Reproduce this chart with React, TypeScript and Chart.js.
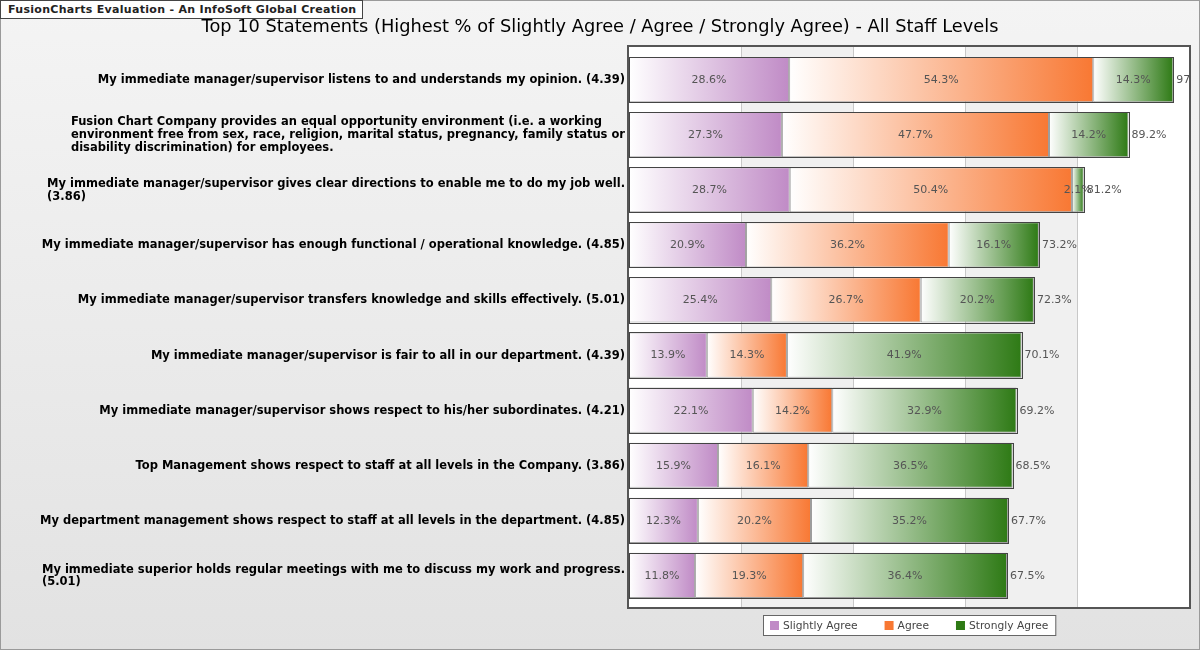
import React, { useEffect, useRef } from "react";
import { Chart, registerables } from "chart.js";

Chart.register(...registerables);

const categories: (string | string[])[] = [
  "My immediate manager/supervisor listens to and understands my opinion. (4.39)",
  [
    "Fusion Chart Company provides an equal opportunity environment (i.e. a working",
    "environment free from sex, race, religion, marital status, pregnancy, family status or",
    "disability discrimination) for employees.",
  ],
  ["My immediate manager/supervisor gives clear directions to enable me to do my job well.", "(3.86)"],
  "My immediate manager/supervisor has enough functional / operational knowledge. (4.85)",
  "My immediate manager/supervisor transfers knowledge and skills effectively. (5.01)",
  "My immediate manager/supervisor is fair to all in our department. (4.39)",
  "My immediate manager/supervisor shows respect to his/her subordinates. (4.21)",
  "Top Management shows respect to staff at all levels in the Company. (3.86)",
  "My department management shows respect to staff at all levels in the department. (4.85)",
  ["My immediate superior holds regular meetings with me to discuss my work and progress.", "(5.01)"],
];

const slightlyAgree = [28.6, 27.3, 28.7, 20.9, 25.4, 13.9, 22.1, 15.9, 12.3, 11.8];
const agree = [54.3, 47.7, 50.4, 36.2, 26.7, 14.3, 14.2, 16.1, 20.2, 19.3];
const stronglyAgree = [14.3, 14.2, 2.1, 16.1, 20.2, 41.9, 32.9, 36.5, 35.2, 36.4];

const seriesNames = ["Slightly Agree", "Agree", "Strongly Agree"];
const seriesColors = ["#C08BC6", "#F87833", "#2E7A15"];
const xTicks = [0, 20, 40, 60, 80, 100];

const titleText =
  "Top 10 Statements (Highest % of Slightly Agree / Agree / Strongly Agree) - All Staff Levels";
const watermarkText = "FusionCharts Evaluation - An InfoSoft Global Creation";

const allSeries = [slightlyAgree, agree, stronglyAgree];
const FONT = "'DejaVu Sans', Verdana, sans-serif";

function gradientFill(ci: number) {
  return (ctx: any) => {
    const chart = ctx.chart;
    const xs = chart.scales && chart.scales.x;
    if (!xs || ctx.type !== "data") return seriesColors[ci];
    const i = ctx.dataIndex;
    let start = 0;
    for (let k = 0; k < ci; k++) start += allSeries[k][i];
    const end = start + allSeries[ci][i];
    const x0 = xs.getPixelForValue(start);
    const x1 = xs.getPixelForValue(end);
    if (!isFinite(x0) || !isFinite(x1) || x1 - x0 < 0.5) return seriesColors[ci];
    const g = chart.ctx.createLinearGradient(x0, 0, x1, 0);
    g.addColorStop(0, "#ffffff");
    g.addColorStop(1, seriesColors[ci]);
    return g;
  };
}

const decorPlugin = {
  id: "decor",
  beforeDraw(chart: any) {
    const { ctx, width, height, chartArea: ca } = chart;
    const xs = chart.scales.x;
    ctx.save();
    // page background
    const bg = ctx.createLinearGradient(0, 0, 0, height);
    bg.addColorStop(0, "#f4f4f4");
    bg.addColorStop(1, "#e2e2e2");
    ctx.fillStyle = bg;
    ctx.fillRect(0, 0, width, height);
    ctx.strokeStyle = "#9a9a9a";
    ctx.lineWidth = 1;
    ctx.strokeRect(0.5, 0.5, width - 1, height - 1);

    // title
    ctx.font = `17.8px ${FONT}`;
    ctx.fillStyle = "#000000";
    ctx.textAlign = "center";
    ctx.textBaseline = "alphabetic";
    ctx.fillText(titleText, width / 2, 32);

    // plot frame
    const fy0 = ca.top - 5;
    const fy1 = ca.bottom + 4;
    ctx.fillStyle = "#ffffff";
    ctx.fillRect(ca.left, fy0, ca.right - ca.left, fy1 - fy0);
    for (let j = 0; j < xTicks.length - 1; j++) {
      if (j % 2 === 1) {
        const a = xs.getPixelForValue(xTicks[j]);
        const b = xs.getPixelForValue(xTicks[j + 1]);
        ctx.fillStyle = "#f0f0f0";
        ctx.fillRect(a, fy0, b - a, fy1 - fy0);
      }
    }
    ctx.strokeStyle = "#c8c8c8";
    ctx.lineWidth = 1;
    for (let j = 1; j < xTicks.length - 1; j++) {
      const p = Math.round(xs.getPixelForValue(xTicks[j])) + 0.5;
      ctx.beginPath();
      ctx.moveTo(p, fy0);
      ctx.lineTo(p, fy1);
      ctx.stroke();
    }
    ctx.strokeStyle = "#555555";
    ctx.lineWidth = 2;
    ctx.strokeRect(ca.left - 1, fy0 - 1, ca.right - ca.left + 2, fy1 - fy0 + 2);

    // category labels
    const ys = chart.scales.y;
    ctx.font = `bold 11.5px ${FONT}`;
    ctx.fillStyle = "#000000";
    ctx.textBaseline = "middle";
    ctx.textAlign = "left";
    const lineH = 12.8;
    categories.forEach((lab, i) => {
      const lines = Array.isArray(lab) ? lab : [lab];
      const maxW = Math.max(...lines.map((l) => ctx.measureText(l).width));
      const x0 = ca.left - 4 - maxW;
      const yc = ys.getPixelForValue(i);
      const y0 = yc - ((lines.length - 1) * lineH) / 2;
      lines.forEach((l, k) => ctx.fillText(l, x0, y0 + k * lineH + 0.5));
    });

    // legend
    ctx.font = `10.7px ${FONT}`;
    const box = 9;
    const gap = 4;
    const spacing = 27;
    const pad = 7;
    const widths = seriesNames.map((n) => ctx.measureText(n).width);
    const total =
      pad * 2 + widths.reduce((s, w) => s + box + gap + w, 0) + spacing * (seriesNames.length - 1);
    const cx = (ca.left + ca.right) / 2;
    const lx = Math.round(cx - total / 2);
    const ly = Math.round(ca.bottom + 12);
    const lh = 20;
    ctx.fillStyle = "#ffffff";
    ctx.fillRect(lx, ly, total, lh);
    ctx.strokeStyle = "#666666";
    ctx.lineWidth = 1;
    ctx.strokeRect(lx + 0.5, ly + 0.5, total, lh);
    let cxp = lx + pad;
    seriesNames.forEach((n, k) => {
      ctx.fillStyle = seriesColors[k];
      ctx.fillRect(cxp, ly + 6, box, box);
      ctx.fillStyle = "#444444";
      ctx.fillText(n, cxp + box + gap, ly + lh / 2 + 1);
      cxp += box + gap + widths[k] + spacing;
    });
    ctx.restore();
  },
  afterDatasetsDraw(chart: any) {
    const { ctx, chartArea: ca } = chart;
    const xs = chart.scales.x;
    ctx.save();
    // outer stack borders
    const meta0 = chart.getDatasetMeta(0);
    ctx.strokeStyle = "#444444";
    ctx.lineWidth = 1;
    meta0.data.forEach((el: any, i: number) => {
      const { y, height } = el.getProps(["y", "height"], true);
      const tot = allSeries.reduce((s, arr) => s + arr[i], 0);
      const x0 = Math.round(xs.getPixelForValue(0));
      const x1 = Math.round(xs.getPixelForValue(tot));
      const y0 = Math.round(y - height / 2);
      const y1 = Math.round(y + height / 2);
      ctx.strokeRect(x0 + 0.5, y0 + 0.5, x1 - x0, y1 - y0);
    });
    // value labels
    ctx.font = `11px ${FONT}`;
    ctx.fillStyle = "#555555";
    ctx.textBaseline = "middle";
    ctx.textAlign = "center";
    chart.data.datasets.forEach((ds: any, di: number) => {
      const meta = chart.getDatasetMeta(di);
      meta.data.forEach((el: any, i: number) => {
        const { x, base, y } = el.getProps(["x", "base", "y"], true);
        ctx.fillText(`${ds.data[i].toFixed(1)}%`, (x + base) / 2, y + 0.5);
      });
    });
    // totals
    ctx.beginPath();
    ctx.rect(ca.left, ca.top - 6, ca.right - ca.left, ca.bottom - ca.top + 12);
    ctx.clip();
    ctx.textAlign = "left";
    meta0.data.forEach((el: any, i: number) => {
      const { y } = el.getProps(["y"], true);
      const tot = allSeries.reduce((s, arr) => s + arr[i], 0);
      const xe = xs.getPixelForValue(tot);
      ctx.fillText(`${tot.toFixed(1)}%`, xe + 3, y + 0.5);
    });
    ctx.restore();
  },
};

export default function App() {
  const canvasRef = useRef<HTMLCanvasElement | null>(null);

  useEffect(() => {
    document.body.style.margin = "0";
    const canvas = canvasRef.current;
    if (!canvas) return;
    Chart.defaults.font.family = FONT;
    const chart = new Chart(canvas, {
      type: "bar",
      data: {
        labels: categories as any,
        datasets: allSeries.map((arr, ci) => ({
          label: seriesNames[ci],
          data: arr,
          backgroundColor: gradientFill(ci),
          borderColor: "rgba(130,130,130,0.75)",
          borderWidth: 1,
          borderSkipped: false,
          barPercentage: 0.82,
          categoryPercentage: 1.0,
        })),
      },
      options: {
        indexAxis: "y",
        responsive: false,
        maintainAspectRatio: false,
        animation: false,
        layout: { padding: { left: 629, right: 11, top: 52, bottom: 47 } },
        scales: {
          x: { type: "linear", stacked: true, min: 0, max: 100, display: false },
          y: { type: "category", stacked: true, display: false, offset: true },
        },
        plugins: {
          legend: { display: false },
          tooltip: { enabled: false },
          title: { display: false },
        },
      },
      plugins: [decorPlugin],
    });
    return () => chart.destroy();
  }, []);

  return (
    <div style={{ position: "relative", width: 1200, height: 650 }}>
      <canvas ref={canvasRef} width={1200} height={650} style={{ display: "block" }} />
      <div
        style={{
          position: "absolute",
          left: 0,
          top: 0,
          height: 17,
          padding: "0 6px 0 7px",
          background: "#ffffff",
          border: "1px solid #444",
          font: `bold 11px ${FONT}`,
          lineHeight: "17px",
          color: "#222",
          letterSpacing: "0.3px",
          whiteSpace: "nowrap",
        }}
      >
        {watermarkText}
      </div>
    </div>
  );
}
